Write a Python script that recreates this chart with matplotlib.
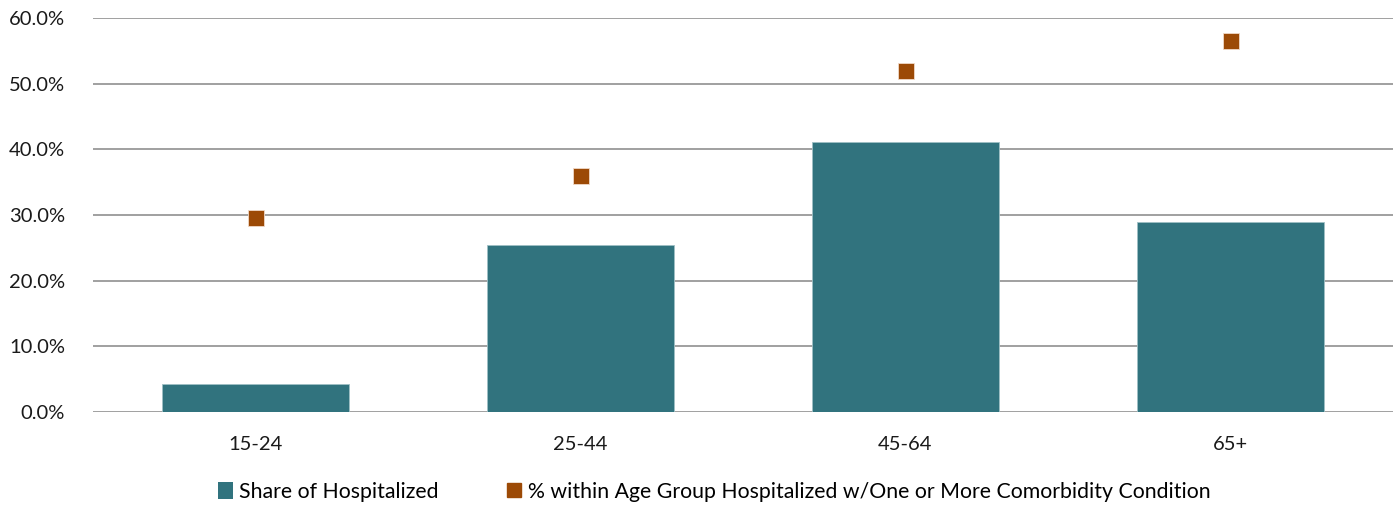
import matplotlib
matplotlib.use("Agg")
import matplotlib.pyplot as plt
from matplotlib.ticker import PercentFormatter
from matplotlib.lines import Line2D
from matplotlib.patches import Patch

categories = ["15-24", "25-44", "45-64", "65+"]
share_hospitalized = [4.2, 25.4, 41.1, 28.9]
comorbidity_pct = [29.5, 35.9, 51.9, 56.5]
yticks = [0, 10, 20, 30, 40, 50, 60]

bar_color = "#31737E"
marker_color = "#9C4A06"

plt.rcParams['font.family'] = ['Lato', 'DejaVu Sans']

fig = plt.figure(figsize=(13.93, 5.24), dpi=100)
ax = fig.add_axes([93/1393, 1 - 412/524, 1300/1393, (412-18)/524])

x = list(range(len(categories)))
ax.bar(x, share_hospitalized, width=0.575, color=bar_color, zorder=3,
       edgecolor="#9fc0c5", linewidth=0.6)
ax.plot(x, comorbidity_pct, linestyle="none", marker="s", markersize=11,
        color=marker_color, markeredgecolor="#f0d9c8", markeredgewidth=0.6, zorder=4)

ax.set_xlim(-0.5, len(categories) - 0.5)
ax.set_ylim(0, 60)
ax.set_yticks(yticks)
ax.yaxis.set_major_formatter(PercentFormatter(decimals=1))
ax.set_xticks(x)
ax.set_xticklabels(categories)
ax.grid(axis="y", color="#999999", linewidth=1.3, zorder=0)
for s in ax.spines.values():
    s.set_visible(False)
ax.tick_params(axis="both", length=0, labelsize=14.5, colors="#1a1a1a")
ax.tick_params(axis="x", pad=17)
ax.tick_params(axis="y", pad=20)

handles = [Patch(facecolor=bar_color, label="Share of Hospitalized"),
           Line2D([], [], linestyle="none", marker="s", markersize=10, color=marker_color,
                  label="% within Age Group Hospitalized w/One or More Comorbidity Condition")]
fig.legend(handles=handles, loc="center", bbox_to_anchor=(714/1393, 1 - 492/524), ncol=2,
           frameon=False, fontsize=15.3, handlelength=0.7, handletextpad=0.3,
           columnspacing=3.2, handleheight=0.8)

fig.savefig("out.png", dpi=100)
